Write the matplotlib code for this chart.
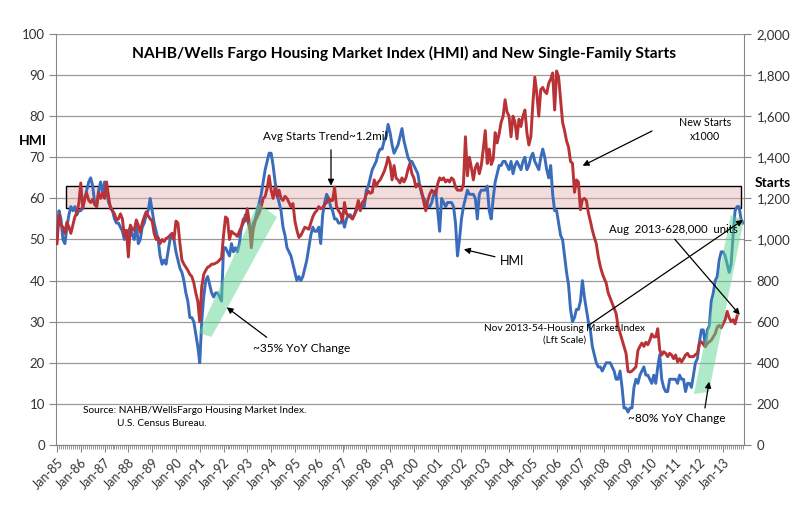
import numpy as np
import matplotlib
matplotlib.use('Agg')
import matplotlib.pyplot as plt
from matplotlib.patches import Rectangle, Polygon
from matplotlib.ticker import FuncFormatter, MultipleLocator, FixedLocator

plt.rcParams['font.family'] = ['Lato', 'DejaVu Sans']

# ---------------- data (monthly, Jan-1985 onward) ----------------
hmi_1985 = [50, 57, 55, 50, 49, 53, 56, 58, 57, 58, 56, 57]
hmi_1986 = [57, 58, 60, 62, 64, 65, 63, 59, 58, 62, 64, 61]
hmi_1987 = [64, 62, 59, 58, 57, 55, 54, 54, 53, 52, 50, 51]
hmi_1988 = [52, 53, 51, 50, 54, 49, 50, 53, 54, 56, 57, 60]
hmi_1989 = [57, 54, 52, 50, 46, 44, 45, 44, 47, 50, 51, 50]
hmi_1990 = [47, 45, 43, 42, 40, 37, 35, 31, 31, 30, 27, 24]
hmi_1991 = [20, 30, 36, 40, 41, 39, 37, 36, 37, 37, 36, 35]
hmi_1992 = [48, 48, 47, 46, 49, 47, 48, 47, 49, 53, 54, 56]
hmi_1993 = [55, 53, 52, 54, 55, 57, 59, 61, 64, 67, 69, 71]
hmi_1994 = [71, 68, 64, 61, 59, 57, 53, 51, 48, 47, 46, 44]
hmi_1995 = [42, 40, 41, 40, 41, 43, 45, 48, 51, 53, 52, 52]
hmi_1996 = [53, 49, 56, 59, 61, 60, 58, 57, 55, 55, 54, 54]
hmi_1997 = [55, 53, 55, 56, 56, 55, 56, 57, 58, 58, 58, 58]
hmi_1998 = [62, 63, 65, 67, 68, 69, 71, 72, 72, 74, 75, 78]
hmi_1999 = [76, 73, 71, 72, 73, 75, 77, 74, 72, 70, 69, 69]
hmi_2000 = [68, 67, 66, 63, 61, 60, 59, 58, 58, 59, 61, 62]
hmi_2001 = [57, 52, 60, 59, 58, 59, 59, 59, 58, 54, 46, 50]
hmi_2002 = [55, 58, 60, 62, 61, 61, 61, 60, 55, 61, 62, 62]
hmi_2003 = [62, 63, 57, 55, 60, 64, 66, 68, 68, 69, 69, 68]
hmi_2004 = [67, 69, 66, 68, 69, 68, 67, 69, 70, 67, 68, 70]
hmi_2005 = [71, 69, 68, 67, 70, 72, 70, 67, 65, 68, 61, 57]
hmi_2006 = [57, 54, 51, 50, 46, 42, 39, 33, 30, 31, 33, 33]
hmi_2007 = [35, 40, 36, 33, 30, 28, 24, 22, 20, 19, 19, 18]
hmi_2008 = [19, 20, 20, 20, 19, 18, 16, 16, 18, 14, 9, 9]
hmi_2009 = [8, 9, 9, 14, 16, 15, 17, 18, 19, 17, 17, 16]
hmi_2010 = [15, 17, 15, 19, 22, 16, 14, 13, 13, 16, 16, 16]
hmi_2011 = [16, 15, 17, 16, 16, 13, 15, 15, 14, 17, 20, 21]
hmi_2012 = [25, 28, 28, 24, 28, 29, 35, 37, 40, 41, 45, 47]
hmi_2013 = [47, 46, 44, 42, 44, 51, 57, 58, 58, 55, 54]          # to Nov-13

starts_1985 = [980, 1120, 1070, 1060, 1030, 1085, 1060, 1030, 1070, 1110, 1130, 1175]
starts_1986 = [1275, 1150, 1200, 1225, 1190, 1180, 1195, 1170, 1160, 1230, 1200, 1225]
starts_1987 = [1200, 1280, 1210, 1150, 1140, 1125, 1095, 1100, 1125, 1100, 1015, 1045]
starts_1988 = [915, 1070, 1050, 1045, 1095, 1070, 1035, 1080, 1110, 1135, 1115, 1100]
starts_1989 = [1090, 1030, 1000, 1010, 980, 1000, 990, 1005, 1010, 1020, 1030, 1000]
starts_1990 = [1090, 1080, 980, 900, 880, 865, 850, 830, 820, 790, 740, 700]
starts_1991 = [600, 770, 830, 850, 865, 870, 880, 880, 885, 890, 900, 910]
starts_1992 = [1020, 1110, 1100, 1000, 1040, 1030, 1025, 1015, 1040, 1060, 1100, 1090]
starts_1993 = [1150, 1080, 960, 1050, 1090, 1110, 1130, 1160, 1200, 1210, 1250, 1310]
starts_1994 = [1240, 1200, 1255, 1210, 1240, 1200, 1190, 1210, 1200, 1180, 1160, 1175]
starts_1995 = [1090, 1045, 1010, 1020, 1040, 1060, 1055, 1050, 1080, 1110, 1130, 1140]
starts_1996 = [1160, 1150, 1155, 1170, 1180, 1200, 1190, 1190, 1255, 1160, 1140, 1125]
starts_1997 = [1090, 1180, 1125, 1115, 1110, 1100, 1120, 1150, 1190, 1140, 1180, 1190]
starts_1998 = [1220, 1235, 1225, 1230, 1290, 1260, 1280, 1290, 1310, 1330, 1360, 1400]
starts_1999 = [1370, 1290, 1360, 1300, 1290, 1275, 1300, 1280, 1300, 1340, 1370, 1320]
starts_2000 = [1300, 1255, 1270, 1265, 1230, 1180, 1140, 1190, 1220, 1240, 1230, 1220]
starts_2001 = [1270, 1300, 1290, 1300, 1280, 1290, 1280, 1300, 1290, 1255, 1240, 1240]
starts_2002 = [1240, 1270, 1500, 1310, 1400, 1350, 1290, 1350, 1370, 1320, 1360, 1440]
starts_2003 = [1530, 1370, 1440, 1365, 1390, 1520, 1470, 1515, 1570, 1600, 1680, 1620]
starts_2004 = [1600, 1500, 1600, 1570, 1490, 1585, 1550, 1600, 1630, 1520, 1460, 1500]
starts_2005 = [1660, 1790, 1710, 1600, 1730, 1740, 1720, 1710, 1760, 1780, 1810, 1630]
starts_2006 = [1820, 1790, 1680, 1570, 1530, 1480, 1450, 1380, 1370, 1230, 1290, 1280]
starts_2007 = [1145, 1195, 1200, 1190, 1130, 1090, 1046, 1010, 980, 916, 870, 836]
starts_2008 = [810, 788, 740, 715, 690, 665, 640, 576, 545, 512, 480, 446]
starts_2009 = [358, 355, 360, 370, 380, 460, 480, 496, 480, 500, 488, 510]
starts_2010 = [540, 526, 526, 566, 462, 438, 454, 446, 430, 446, 438, 420]
starts_2011 = [438, 404, 420, 404, 420, 438, 446, 430, 430, 430, 440, 446]
starts_2012 = [494, 502, 490, 478, 494, 502, 510, 526, 542, 574, 582, 570]
starts_2013 = [590, 610, 650, 620, 600, 610, 590, 628]                 # to Aug-13

x_tick_labels = ['Jan-85', 'Jan-86', 'Jan-87', 'Jan-88', 'Jan-89', 'Jan-90', 'Jan-91',
                 'Jan-92', 'Jan-93', 'Jan-94', 'Jan-95', 'Jan-96', 'Jan-97', 'Jan-98',
                 'Jan-99', 'Jan-00', 'Jan-01', 'Jan-02', 'Jan-03', 'Jan-04', 'Jan-05',
                 'Jan-06', 'Jan-07', 'Jan-08', 'Jan-09', 'Jan-10', 'Jan-11', 'Jan-12',
                 'Jan-13']
n_months = 347          # Jan-85 .. Nov-13 categories on the axis
band_low, band_high = 1152, 1258   # avg starts trend band (thousands)

hmi = (hmi_1985 + hmi_1986 + hmi_1987 + hmi_1988 + hmi_1989 + hmi_1990 + hmi_1991 +
       hmi_1992 + hmi_1993 + hmi_1994 + hmi_1995 + hmi_1996 + hmi_1997 + hmi_1998 +
       hmi_1999 + hmi_2000 + hmi_2001 + hmi_2002 + hmi_2003 + hmi_2004 + hmi_2005 +
       hmi_2006 + hmi_2007 + hmi_2008 + hmi_2009 + hmi_2010 + hmi_2011 + hmi_2012 +
       hmi_2013)
starts = (starts_1985 + starts_1986 + starts_1987 + starts_1988 + starts_1989 +
          starts_1990 + starts_1991 + starts_1992 + starts_1993 + starts_1994 +
          starts_1995 + starts_1996 + starts_1997 + starts_1998 + starts_1999 +
          starts_2000 + starts_2001 + starts_2002 + starts_2003 + starts_2004 +
          starts_2005 + starts_2006 + starts_2007 + starts_2008 + starts_2009 +
          starts_2010 + starts_2011 + starts_2012 + starts_2013)

# ---------------- figure ----------------
BLUE = '#3a6cbc'
RED = '#b83236'
GRID = '#9a9a9a'
TXT = '#333333'

fig = plt.figure(figsize=(8.1, 5.09), dpi=100)
ax = fig.add_axes([56 / 810, 1 - 445 / 509, 688 / 810, 411 / 509])
ax2 = ax.twinx()

ax.set_xlim(-0.5, n_months - 0.5)
ax.set_ylim(0, 100)
ax2.set_ylim(0, 2000)

# grid + band (behind HMI line)
ax.yaxis.set_major_locator(MultipleLocator(10))
ax.grid(axis='y', color=GRID, lw=0.9, zorder=0)
ax.set_axisbelow(True)
ax.add_patch(Rectangle((4.5, band_low), 340.5, band_high - band_low,
                       transform=ax2.transData, facecolor='#e3b3b2', alpha=0.45,
                       edgecolor='none', zorder=1))
ax.add_patch(Rectangle((4.5, band_low), 340.5, band_high - band_low,
                       transform=ax2.transData, facecolor='none',
                       edgecolor='black', lw=1.0, zorder=1.5))

ax.plot(np.arange(len(hmi)), hmi, color=BLUE, lw=2.1, zorder=3, solid_joinstyle='round')
ax2.plot(np.arange(len(starts)), starts, color=RED, lw=2.1, zorder=3, solid_joinstyle='round')

# green YoY wedges
GREEN = '#5fd791'
ax2.add_patch(Polygon([(71.6, 545), (77.9, 526), (110.9, 1109), (101.4, 1178)],
                      closed=True, facecolor=GREEN, alpha=0.5, edgecolor='none', zorder=4))
ax2.add_patch(Polygon([(321.2, 248), (328.8, 258), (346.4, 1095), (339.9, 1119)],
                      closed=True, facecolor=GREEN, alpha=0.5, edgecolor='none', zorder=4))

# axes styling
for s in ['top', 'right']:
    ax.spines[s].set_visible(False)
for s in ['top', 'left', 'bottom']:
    ax2.spines[s].set_visible(False)
ax.spines['left'].set_color('#868686')
ax.spines['bottom'].set_color('#868686')
ax2.spines['right'].set_color('#868686')

ax.xaxis.set_major_locator(FixedLocator(np.arange(0, n_months, 12)))
ax.xaxis.set_minor_locator(FixedLocator(np.arange(0, n_months, 1)))
ax.set_xticklabels(x_tick_labels, rotation=45, ha='right', va='top',
                   rotation_mode='anchor', fontsize=9, color=TXT)
ax.tick_params(axis='x', which='major', length=5, color='#868686', pad=3)
ax.tick_params(axis='x', which='minor', length=3, color='#868686', width=0.6)
ax.tick_params(axis='y', length=5, color='#868686', labelsize=9.5, labelcolor=TXT, pad=3)
ax2.yaxis.set_major_locator(MultipleLocator(200))
ax2.yaxis.set_major_formatter(FuncFormatter(lambda v, p: f'{int(v):,}'))
ax2.tick_params(axis='y', length=5, color='#868686', labelsize=9.5, labelcolor=TXT, pad=4)

# texts
ax2.text(0.506, 0.952, 'NAHB/Wells Fargo Housing Market Index (HMI) and New Single-Family Starts',
         transform=ax2.transAxes, ha='center', va='center', fontsize=11.2,
         fontweight='bold', color='black', zorder=6)
fig.text(33 / 810, 1 - 141 / 509, 'HMI', ha='center', va='center', fontsize=10,
         fontweight='bold', color='black')
fig.text(773 / 810, 1 - 183 / 509, 'Starts', ha='center', va='center', fontsize=10,
         fontweight='bold', color='black')

arrow = dict(arrowstyle='-|>', color='black', lw=0.9, mutation_scale=9, shrinkA=0, shrinkB=0)

ax2.text(135.5, 1500, 'Avg Starts Trend~1.2mil', ha='center', va='center', fontsize=8.4, zorder=6)
ax2.annotate('', xy=(138.2, 1262), xytext=(138.2, 1436), arrowprops=arrow, zorder=6)

ax2.text(327.0, 1535, 'New Starts\nx1000', ha='center', va='center', fontsize=7.7,
         linespacing=1.35, zorder=6)
ax2.annotate('', xy=(265.1, 1359), xytext=(300.1, 1528), arrowprops=arrow, zorder=6)

ax2.text(229.5, 893, 'HMI', ha='center', va='center', fontsize=9, zorder=6)
ax2.annotate('', xy=(205.2, 952), xytext=(220.9, 916), arrowprops=arrow, zorder=6)

ax2.text(123.5, 472, '~35% YoY Change', ha='center', va='center', fontsize=8.6, zorder=6)
ax2.annotate('', xy=(85.6, 670), xytext=(105.8, 524), arrowprops=arrow, zorder=6)

ax2.text(311.0, 1050, 'Aug  2013-628,000  units', ha='center', va='center', fontsize=8.2, zorder=6)
ax2.annotate('', xy=(344.4, 633), xytext=(311.6, 1001), arrowprops=arrow, zorder=6)

ax2.text(256.0, 540, 'Nov 2013-54-Housing Market Index\n(Lft Scale)', ha='center',
         va='center', fontsize=7.2, linespacing=1.4, zorder=6)
ax2.annotate('', xy=(346.0, 1095), xytext=(268.4, 584), arrowprops=arrow, zorder=6)

ax2.text(312.5, 130, '~80% YoY Change', ha='center', va='center', fontsize=8.6, zorder=6)
ax2.annotate('', xy=(328.9, 308), xytext=(326.8, 180), arrowprops=arrow, zorder=6)

ax2.text(13.2, 170, 'Source: NAHB/WellsFargo Housing Market Index.', ha='left',
         va='center', fontsize=7.3, zorder=6)
ax2.text(30.5, 105, 'U.S. Census Bureau.', ha='left', va='center', fontsize=7.3, zorder=6)

fig.savefig('out.png', dpi=100, facecolor='white')
